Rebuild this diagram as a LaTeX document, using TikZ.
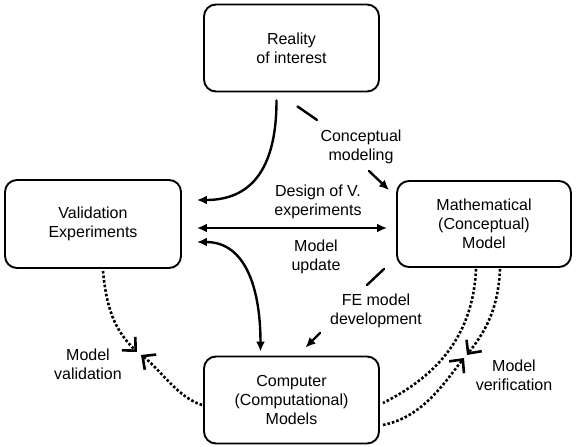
\documentclass[tikz,border=0pt]{standalone}
\usepackage{fontspec}
\setmainfont{Liberation Sans}
\usetikzlibrary{arrows.meta,calc}

\begin{document}
\begin{tikzpicture}[line cap=round,line join=round,x=1pt,y=-1pt,
		box/.style={draw,line width=1.9pt,rounded corners=12pt,align=center,minimum width=175pt,minimum height=87pt,font=\fontsize{16}{19}\selectfont},
		lbl/.style={align=center,font=\fontsize{16}{19}\selectfont},
		lnk/.style={line width=2.4pt},
		arr/.style={lnk,-{Latex[length=10pt,width=9pt]}},
		darr/.style={lnk,{Latex[length=10pt,width=9pt]}-{Latex[length=10pt,width=9pt]}},
		dotsplain/.style={line width=2.6pt,line cap=butt,dash pattern=on 2.6pt off 2pt},
		dots/.style={dotsplain,-{Straight Barb[length=10pt,width=19pt,line width=2.6pt]}}]
		\useasboundingbox (0,0) rectangle (576,447);
		% boxes
		\node[box] (real) at (291.5,48) {Reality\\of interest};
		\node[box,minimum width=176pt,minimum height=88pt] (valid) at (93,224) {Validation\\Experiments};
		\node[box,minimum width=174pt,minimum height=86pt] (math) at (484,224) {Mathematical\\(Conceptual)\\Model};
		\node[box] (comp) at (291.5,400) {Computer\\(Computational)\\Models};
		% labels
		\node[lbl] (cm) at (361,147) {Conceptual\\modeling};
		\node[lbl] (dve) at (318,202) {Design of V.\\experiments};
		\node[lbl] (mu) at (316,257) {Model\\update};
		\node[lbl] (fe) at (376,311) {FE model\\development};
		\node[lbl] (mval) at (88,364) {Model\\validation};
		\node[lbl] (mver) at (514,375) {Model\\verification};
		\coordinate (vmeet) at (139,353);
		\coordinate (fmeet) at (466,357);
		% solid connectors
		\draw[arr] ($(real.south)+(-15,8)$) .. controls +(0,80) and +(45,0) .. ($(valid.east)+(15,-24)$);
		\draw[lnk] ($(real.south)+(6,14)$) -- ($(cm)+(-44,-27)$);
		\draw[arr] ($(cm)+(8,24)$) -- ($(math.north west)+(-7,10)$);
		\draw[darr] ($(valid.east)+(15,4)$) -- ($(math.west)+(-9,4)$);
		\draw[darr] ($(valid.east)+(15,18)$) .. controls +(50,0) and +(0,-60) .. ($(comp.north)+(-31,-4)$);
		\draw[lnk] ($(math.south west)+(-12,1)$) -- ($(fe)+(-9,-26)$);
		\draw[arr] ($(fe)+(-56,22)$) -- ($(comp.north)+(14,-8)$);
		% dotted connectors
		\draw[dots] ($(valid.south)+(10,2)$) .. controls +(4,45) and +(-18,-18) .. ($(vmeet)+(-2,-1)$);
		\draw[dots] ($(comp.west)+(-1,5)$) .. controls +(-25,-8) and +(20,15) .. ($(vmeet)+(2,2)$);
		\draw[dotsplain] ($(math.south)+(-8,1)$) .. controls +(-3,70) and +(50,-25) .. ($(comp.east)+(3,3)$);
		\draw[dots] ($(math.south)+(16,1)$) .. controls +(-2,45) and +(15,-20) .. ($(fmeet)+(1,-2)$);
		\draw[dots] ($(comp.east)+(3,25)$) .. controls +(40,-8) and +(-20,25) .. ($(fmeet)+(-2,1)$);
	\end{tikzpicture}
\end{document}
